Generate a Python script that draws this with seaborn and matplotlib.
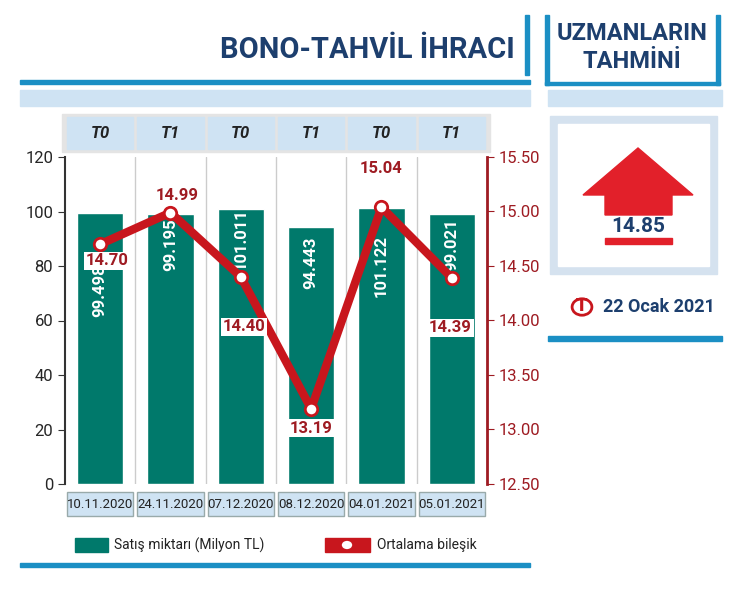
import matplotlib
matplotlib.use("Agg")
import matplotlib.pyplot as plt
import seaborn as sns
import pandas as pd
from matplotlib.patches import Rectangle, Polygon, Circle

dates = ["10.11.2020", "24.11.2020", "07.12.2020", "08.12.2020", "04.01.2021", "05.01.2021"]
terms = ["T0", "T1", "T0", "T1", "T0", "T1"]
sales = [99.498, 99.195, 101.011, 94.443, 101.122, 99.021]
sales_labels = ["99.498", "99.195", "101.011", "94.443", "101.122", "99.021"]
rates = [14.70, 14.99, 14.40, 13.19, 15.04, 14.39]
sales_label_y = [71, 88, 90, 81, 80, 88]
rate_offsets = [(5, -12), (5, 12), (2, -36), (0, -14), (0, 28), (-1, -36)]

sns.set_style("white")
plt.rcParams['font.family'] = ['Roboto', 'DejaVu Sans']

W, H = 733, 608
fig = plt.figure(figsize=(W / 100, H / 100), dpi=100)
fig.patch.set_facecolor("white")

def fx(x): return x / W
def fy(y): return 1 - y / H
def rect(x0, y0, x1, y1, **kw):
    fig.patches.append(Rectangle((fx(x0), fy(y1)), fx(x1) - fx(x0), fy(y0) - fy(y1),
                                 transform=fig.transFigure, **kw))

BLUE = "#1b8fc4"
LIGHT = "#cfe3f3"
DARK = "#1d3f6e"
TEAL = "#00796b"
RED = "#9e1b22"

fig.text(fx(515), fy(50), "BONO-TAHVİL İHRACI", ha="right", va="center", fontsize=21,
         fontweight="bold", color=DARK)
rect(525, 15, 529, 75, color=BLUE)
rect(20, 80, 530, 84, color=BLUE)
rect(20, 90, 530, 106, color=LIGHT)
rect(20, 563, 530, 567, color=BLUE)

x0, x1 = 65, 487
cw = (x1 - x0) / 6
rect(62, 114, 490, 152, color="#e4e4e4")
for i, t in enumerate(terms):
    rect(x0 + i * cw + 2, 117, x0 + (i + 1) * cw - 2, 149, color=LIGHT)
    fig.text(fx(x0 + (i + 0.5) * cw), fy(133), t, ha="center", va="center", fontsize=12,
             fontweight="bold", style="italic", color="#222222")
    rect(x0 + i * cw + 2, 492, x0 + (i + 1) * cw - 2, 516, color=LIGHT, ec="#9aa", lw=1)
    fig.text(fx(x0 + (i + 0.5) * cw), fy(505), dates[i], ha="center", va="center",
             fontsize=9.5, color="#222222")

ax = fig.add_axes([fx(x0), fy(484), fx(x1) - fx(x0), fy(157) - fy(484)])
df = pd.DataFrame({"date": dates, "sales": sales, "rate": rates})
sns.barplot(data=df, x="date", y="sales", color=TEAL, width=0.66, ax=ax, saturation=1)
ax.set_ylim(0, 120)
ax.set_xlim(-0.5, 5.5)
ax.set_xlabel(""); ax.set_ylabel("")
ax.set_xticks([])
ax.set_yticks(range(0, 121, 20))
ax.tick_params(axis="y", labelsize=12, length=5, color="#333", direction="out", left=True)
for i in range(1, 6):
    ax.axvline(i - 0.5, color="#cccccc", lw=1)
for s in ["top", "right", "bottom"]:
    ax.spines[s].set_visible(False)
ax.spines["left"].set_color("#333")
ax.spines["left"].set_linewidth(1.5)
for i, lab in enumerate(sales_labels):
    ax.text(i, sales_label_y[i], lab, rotation=90, ha="center", va="center", color="white",
            fontsize=12, fontweight="bold")

ax2 = ax.twinx()
sns.lineplot(data=df, x="date", y="rate", ax=ax2, color="#c8161d", lw=6, sort=False)
ax2.scatter(range(6), rates, s=80, color="white", edgecolor="#c8161d", lw=2, zorder=5)
ax2.set_ylim(12.5, 15.5)
ax2.set_yticks([12.5, 13.0, 13.5, 14.0, 14.5, 15.0, 15.5])
ax2.set_yticklabels([f"{v:.2f}" for v in ax2.get_yticks()], color=RED, fontsize=12)
ax2.tick_params(axis="y", length=5, color=RED)
ax2.set_ylabel("")
for s in ["top", "left", "bottom"]:
    ax2.spines[s].set_visible(False)
ax2.spines["right"].set_color(RED)
ax2.spines["right"].set_linewidth(2)
for i, r in enumerate(rates):
    ax2.annotate(f"{r:.2f}", (i, r), xytext=rate_offsets[i], textcoords="offset points",
                 ha="center", va="center", color=RED, fontsize=12, fontweight="bold",
                 bbox=dict(boxstyle="square,pad=0.1", fc="white", ec="none"), zorder=6)

rect(75, 538, 108, 552, color=TEAL)
fig.text(fx(114), fy(545), "Satış miktarı (Milyon TL)", va="center", fontsize=10, color="#222")
rect(325, 538, 370, 552, color="#c8161d")
fig.patches.append(Circle((fx(347), fy(545)), 0.0085, transform=fig.transFigure,
                          fc="white", ec="#c8161d", lw=1.5))
fig.text(fx(377), fy(545), "Ortalama bileşik", va="center", fontsize=10, color="#222")

rect(545, 15, 549, 85, color=BLUE)
rect(716, 15, 720, 85, color=BLUE)
rect(545, 82, 720, 85, color=BLUE)
fig.text(fx(632), fy(33), "UZMANLARIN", ha="center", va="center", fontsize=17,
         fontweight="bold", color=DARK)
fig.text(fx(632), fy(62), "TAHMİNİ", ha="center", va="center", fontsize=17,
         fontweight="bold", color=DARK)
rect(548, 90, 722, 106, color=LIGHT)
rect(550, 116, 717, 274, color="#d5e2ef")
rect(558, 124, 709, 266, color="white")
pts = [(583, 195), (638, 148), (693, 195), (672, 195), (672, 215), (605, 215), (605, 195)]
fig.patches.append(Polygon([(fx(a), fy(b)) for a, b in pts], closed=True,
                           transform=fig.transFigure, color="#e2202a"))
fig.text(fx(638), fy(226), "14.85", ha="center", va="center", fontsize=15,
         fontweight="bold", color=DARK)
rect(605, 238, 672, 244, color="#e2202a")
fig.patches.append(Circle((fx(582), fy(307)), 0.0135, transform=fig.transFigure,
                          fc="white", ec="#c8161d", lw=2))
fig.text(fx(582), fy(306), "T", ha="center", va="center", fontsize=12, fontweight="bold",
         color="#c8161d", family="DejaVu Sans")
fig.text(fx(603), fy(307), "22 Ocak 2021", va="center", fontsize=13, fontweight="bold",
         color=DARK)
rect(548, 336, 722, 341, color=BLUE)

fig.savefig("out.png", dpi=100)
